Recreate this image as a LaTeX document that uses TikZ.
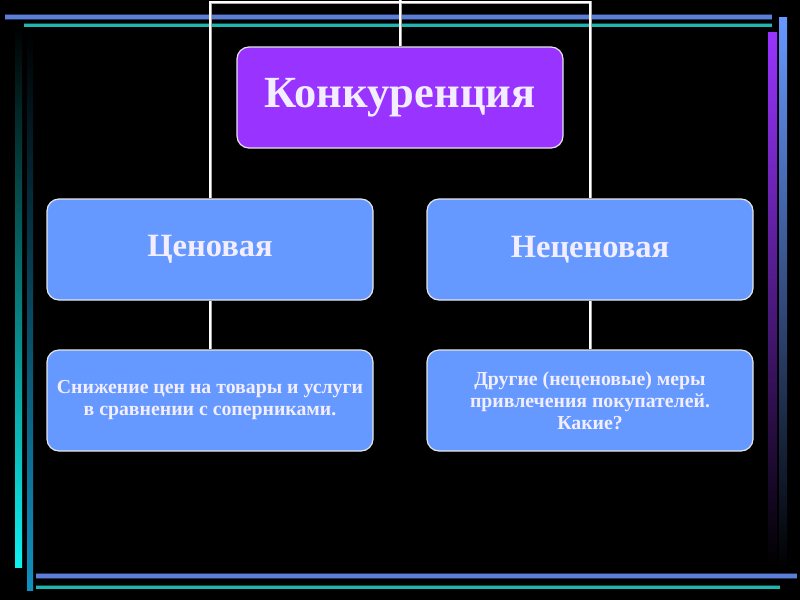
\documentclass[tikz,border=0pt]{standalone}
\usepackage{fontspec}
\setmainfont{Liberation Serif}
\begin{document}
\begin{tikzpicture}[x=1pt,y=-1pt,
  box/.style={rectangle, rounded corners=12pt, draw=white!80!gray, line width=1.2pt,
    minimum width=326pt, minimum height=101pt, inner sep=0pt, align=center,
    text=textc, font=\bfseries},
  bluebox/.style={box, fill=boxblue},
  conn/.style={line width=3pt, draw=gray!70},
  connin/.style={line width=1.6pt, draw=white},
]
\definecolor{boxblue}{HTML}{6699FF}
\definecolor{boxpurple}{HTML}{9933FF}
\definecolor{textc}{HTML}{F2EEFF}
\definecolor{linblue}{HTML}{5B7FD9}
\definecolor{linteal}{HTML}{1FB5B0}
\definecolor{cyanb}{HTML}{10F0F0}
\definecolor{tealb}{HTML}{1090C0}
\fill[black] (0,0) rectangle (800,600);
\useasboundingbox (0,0) rectangle (800,600);
% decorative frame lines
\draw[line width=6pt, linblue!40!black] (5,16.5) -- (772,16.5);
\draw[line width=4pt, linblue] (5,16.5) -- (772,16.5);
\draw[line width=4.5pt, linteal!40!black] (24,25) -- (772,25);
\draw[line width=3pt, linteal] (24,25) -- (772,25);
\shade[top color=black, bottom color=cyanb] (15,25) rectangle (22,567);
\shade[top color=black, bottom color=tealb] (27,32) rectangle (33,590);
\shade[top color=boxpurple, bottom color=black] (768,32) rectangle (777,566);
\shade[top color=boxblue, bottom color=black] (779,17) rectangle (787,570);
\draw[line width=6pt, linblue!40!black] (36,576) -- (797,576);
\draw[line width=4pt, linblue] (36,576) -- (797,576);
\draw[line width=4.5pt, linteal!40!black] (36,587) -- (780,587);
\draw[line width=3pt, linteal] (36,587) -- (780,587);
% nodes
\node[box, fill=boxpurple, font=\bfseries\fontsize{44.5}{48}\selectfont] (k) at (400,97.5) {Конкуренция};
\node[bluebox, font=\bfseries\fontsize{32.5}{36}\selectfont] (c) at (210,249.5) {Ценовая};
\node[bluebox, font=\bfseries\fontsize{32.5}{36}\selectfont] (n) at (590,249.5) {Неценовая};
\node[bluebox, font=\bfseries\fontsize{19.8}{22}\selectfont] (cl) at (210,400.5) {Снижение цен на товары и услуги\\в сравнении с соперниками.};
\node[bluebox, font=\bfseries\fontsize{19.8}{22}\selectfont] (nl) at (590,400.5) {Другие (неценовые) меры\\привлечения покупателей.\\Какие?};
% connectors
\coordinate (tl) at (210,2);
\coordinate (tr) at (590,2);
\coordinate (tm) at (400,0);
\foreach \s in {conn,connin}{
  \draw[\s] (c.north) -- (tl) -- (tr) -- (n.north);
  \draw[\s] (k.north) -- (tm);
  \draw[\s] (c.south) -- (cl.north);
  \draw[\s] (n.south) -- (nl.north);
}
\end{tikzpicture}
\end{document}
